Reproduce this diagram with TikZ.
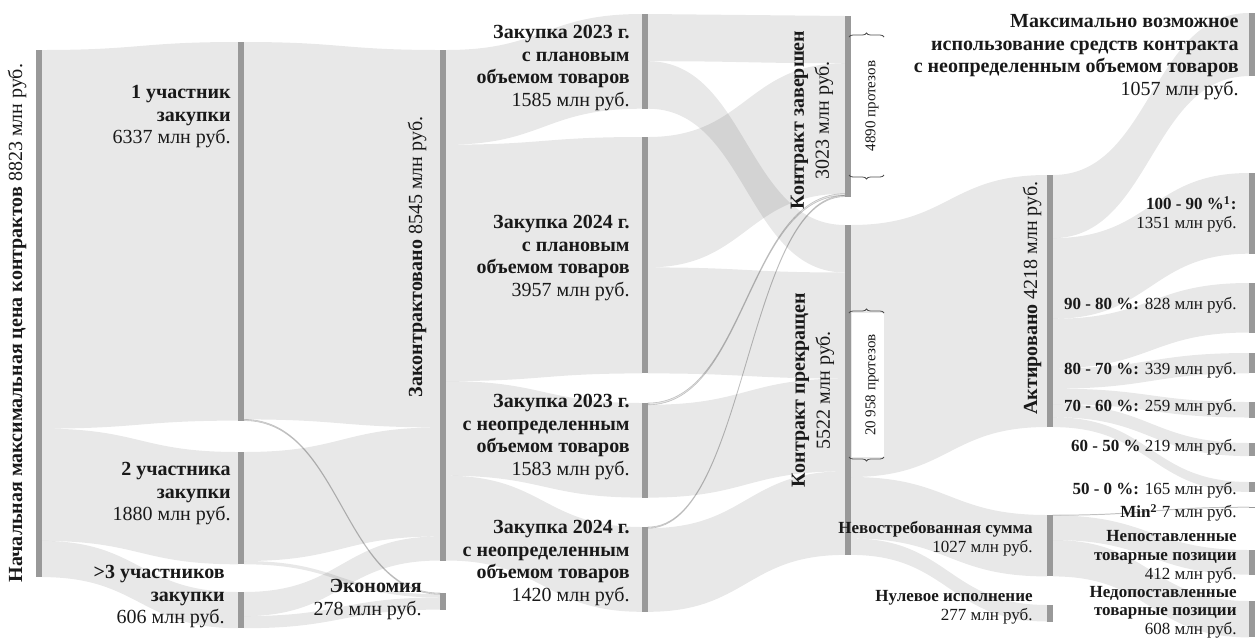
\documentclass[tikz,border=0pt]{standalone}
\usepackage{fontspec}
\setmainfont{Liberation Serif}
\usetikzlibrary{decorations.pathreplacing}
\tikzset{
 flowsty/.style={fill=black, fill opacity=0.09},
 thinflow/.style={draw=black, draw opacity=0.2, line width=0.3pt},
 barsty/.style={fill=black!40},
 lab/.style={inner sep=0, align=right, text=black!90, font=\fontsize{10}{11.25}\selectfont},
 slab/.style={inner sep=0, align=right, text=black!90, font=\fontsize{8.5}{9.5}\selectfont},
 rlab/.style={inner sep=0, rotate=90, align=center, text=black!90, font=\fontsize{10}{12.5}\selectfont},
 plab/.style={inner sep=0, rotate=90, text=black!90, font=\fontsize{7.5}{9}\selectfont},
 brsty/.style={decorate, decoration={brace, amplitude=2pt}, draw=black!70, line width=0.4pt},
 pbox/.style={fill=white, draw=none}
}
\newcommand\sflow[7][]{%
 \path[flowsty,#1] (#2,#3) .. controls ({(#2+#5)/2},#3) and ({(#2+#5)/2},#6) .. (#5,#6)
   -- (#5,#7) .. controls ({(#2+#5)/2},#7) and ({(#2+#5)/2},#4) .. (#2,#4) -- cycle;}
\newcommand\sbar[4]{%
 \fill[barsty] (#2,#3) rectangle (#2+6,#4);
 \coordinate (#1) at (#2+3,{(#3+#4)/2});}
\begin{document}
\begin{tikzpicture}[x=0.5pt,y=-0.5pt]
\useasboundingbox (0,0) rectangle (1255,639);
% ---- flows col1 -> col2
\sflow{42}{50}{428.6}{238}{42}{420.6}
\sflow{42}{428.6}{540.9}{238}{452}{564.3}
\sflow{42}{540.9}{577.1}{238}{592}{628.2}
% ---- col2 -> col3
\sflow{244}{42}{419.4}{440}{50}{427.4}
\sflow[thinflow]{244}{419.4}{420.6}{440}{593}{594.2}
\sflow{244}{452}{561}{440}{427.4}{536.4}
\sflow{244}{561}{564.3}{440}{594.2}{597.5}
\sflow{244}{592}{616.1}{440}{536.4}{560.5}
\sflow{244}{616.1}{628.2}{440}{597.5}{609.6}
% ---- col3 -> col4
\sflow{446}{50}{144.7}{642}{14}{108.7}
\sflow{446}{144.7}{381.1}{642}{137}{373.4}
\sflow{446}{381.1}{475.7}{642}{403}{497.6}
\sflow{446}{475.7}{560.5}{642}{527}{611.8}
% ---- col4 -> col5
\sflow{648}{14}{61.2}{845}{16}{63.2}
\sflow{648}{61.2}{108.7}{845}{225}{272.5}
\sflow{648}{137}{267.4}{845}{63.2}{193.6}
\sflow{648}{267.4}{373.4}{845}{272.5}{378.5}
\sflow[thinflow]{648}{403}{404.8}{845}{193.6}{195.4}
\sflow{648}{404.8}{497.6}{845}{378.5}{471.3}
\sflow[thinflow]{648}{527}{528.2}{845}{195.4}{196.6}
\sflow{648}{528.2}{611.8}{845}{471.3}{554.9}
% ---- col5 -> col6
\sflow{851}{225}{477}{1047}{175}{427}
\sflow{851}{477}{538.4}{1047}{515}{576.4}
\sflow{851}{538.4}{554.9}{1047}{605}{621.5}
% ---- col6 -> col7
\sflow{1053}{175}{238.1}{1249}{13}{76.1}
\sflow{1053}{238.1}{318.8}{1249}{173}{253.7}
\sflow{1053}{318.8}{368.3}{1249}{283}{332.5}
\sflow{1053}{368.3}{388.6}{1249}{353}{373.3}
\sflow{1053}{388.6}{404.1}{1249}{402}{417.5}
\sflow{1053}{404.1}{417.2}{1249}{443}{456.1}
\sflow{1053}{417.2}{427.1}{1249}{482}{491.9}
\sflow[thinflow]{1053}{515}{515.4}{1249}{507}{507.4}
\sflow{1053}{515.4}{540}{1249}{550}{574.6}
\sflow{1053}{540}{576.4}{1249}{601}{637.4}
% ---- bars
\sbar{n1}{36}{50}{577.1}
\sbar{u1}{238}{42}{420.6}
\sbar{u2}{238}{452}{564.3}
\sbar{u3}{238}{592}{628.2}
\sbar{zk}{440}{50}{560.5}
\sbar{ek}{440}{593}{609.6}
\sbar{p23}{642}{14}{108.7}
\sbar{p24}{642}{137}{373.4}
\sbar{n23}{642}{403}{497.6}
\sbar{n24}{642}{527}{611.8}
\sbar{zav}{845}{16}{196.6}
\sbar{prk}{845}{225}{554.9}
\sbar{akt}{1047}{175}{427}
\sbar{nev}{1047}{515}{576.4}
\sbar{nul}{1047}{605}{621.5}
\sbar{rmax}{1249}{13}{76.1}
\sbar{r1}{1249}{173}{253.7}
\sbar{r2}{1249}{283}{332.5}
\sbar{r3}{1249}{353}{373.3}
\sbar{r4}{1249}{402}{417.5}
\sbar{r5}{1249}{443}{456.1}
\sbar{r6}{1249}{482}{491.9}
\sbar{rmin}{1249}{507}{507.4}
\sbar{rnep}{1249}{550}{574.6}
\sbar{rned}{1249}{601}{637.4}
% ---- brackets
\fill[pbox] (852,37) rectangle (884,175);
\fill[pbox] (852,313) rectangle (884,457);
\draw[brsty] (849,37) -- (884,37);
\draw[brsty] (884,175) -- (849,175);
\draw[brsty] (849,313) -- (884,313);
\draw[brsty] (884,457) -- (849,457);
\node[plab] (t1) at (872,106) {4890 протезов};
\node[plab] (t2) at (872,385) {20 958 протезов};
% ---- labels
\node[rlab] (L1) at (17,323) {\textbf{Начальная максимальная цена контрактов} 8823 млн руб.};
\node[lab, anchor=north east] (L2) at (231,85) {\textbf{1 участник}\\\textbf{закупки}\\6337 млн руб.};
\node[lab, anchor=north east] (L3) at (231,462) {\textbf{2 участника}\\\textbf{закупки}\\1880 млн руб.};
\node[lab, anchor=north east] (L4) at (225,565) {\textbf{>3 участников}\\\textbf{закупки}\\606 млн руб.};
\node[rlab] (L5) at (417,257) {\textbf{Законтрактовано} 8545 млн руб.};
\node[lab, anchor=north east] (L6) at (422,579) {\textbf{Экономия}\\278 млн руб.};
\node[lab, anchor=north east] (L7) at (630,25) {\textbf{Закупка 2023 г.}\\\textbf{с плановым}\\\textbf{объемом товаров}\\1585 млн руб.};
\node[lab, anchor=north east] (L8) at (630,215) {\textbf{Закупка 2024 г.}\\\textbf{с плановым}\\\textbf{объемом товаров}\\3957 млн руб.};
\node[lab, anchor=north east] (L9) at (630,394) {\textbf{Закупка 2023 г.}\\\textbf{с неопределенным}\\\textbf{объемом товаров}\\1583 млн руб.};
\node[lab, anchor=north east] (L10) at (630,520) {\textbf{Закупка 2024 г.}\\\textbf{с неопределенным}\\\textbf{объемом товаров}\\1420 млн руб.};
\node[rlab] (L11) at (812,120) {\textbf{Контракт завершен}\\3023 млн руб.};
\node[rlab] (L12) at (813,390) {\textbf{Контракт прекращен}\\5522 млн руб.};
\node[rlab] (L13) at (1032,298) {\textbf{Актировано} 4218 млн руб.};
\node[slab, anchor=north east] (L14) at (1033,521) {\textbf{Невостребованная сумма}\\1027 млн руб.};
\node[slab, anchor=north east] (L15) at (1033,590) {\textbf{Нулевое исполнение}\\277 млн руб.};
\node[lab, anchor=north east] (L16) at (1239,14) {\textbf{Максимально возможное}\\\textbf{использование средств контракта}\\\textbf{с неопределенным объемом товаров}\\1057 млн руб.};
\node[slab, anchor=north east] (L17) at (1237,196) {\textbf{100 - 90 \%\textsuperscript{1}:}\\1351 млн руб.};
\node[slab, anchor=east] (L18) at (1237,305) {\textbf{90 - 80 \%:} 828 млн руб.};
\node[slab, anchor=east] (L19) at (1237,370) {\textbf{80 - 70 \%:} 339 млн руб.};
\node[slab, anchor=east] (L20) at (1237,407) {\textbf{70 - 60 \%:} 259 млн руб.};
\node[slab, anchor=east] (L21) at (1237,447) {\textbf{60 - 50 \%} 219 млн руб.};
\node[slab, anchor=east] (L22) at (1237,490) {\textbf{50 - 0 \%:} 165 млн руб.};
\node[slab, anchor=east] (L23) at (1237,513) {\textbf{Min\textsuperscript{2}} 7 млн руб.};
\node[slab, anchor=north east] (L24) at (1237,530) {\textbf{Непоставленные}\\\textbf{товарные позиции}\\412 млн руб.};
\node[slab, anchor=north east, font=\fontsize{8.5}{9.2}\selectfont] (L25) at (1237,586) {\textbf{Недопоставленные}\\\textbf{товарные позиции}\\608 млн руб.};
\end{tikzpicture}
\end{document}
